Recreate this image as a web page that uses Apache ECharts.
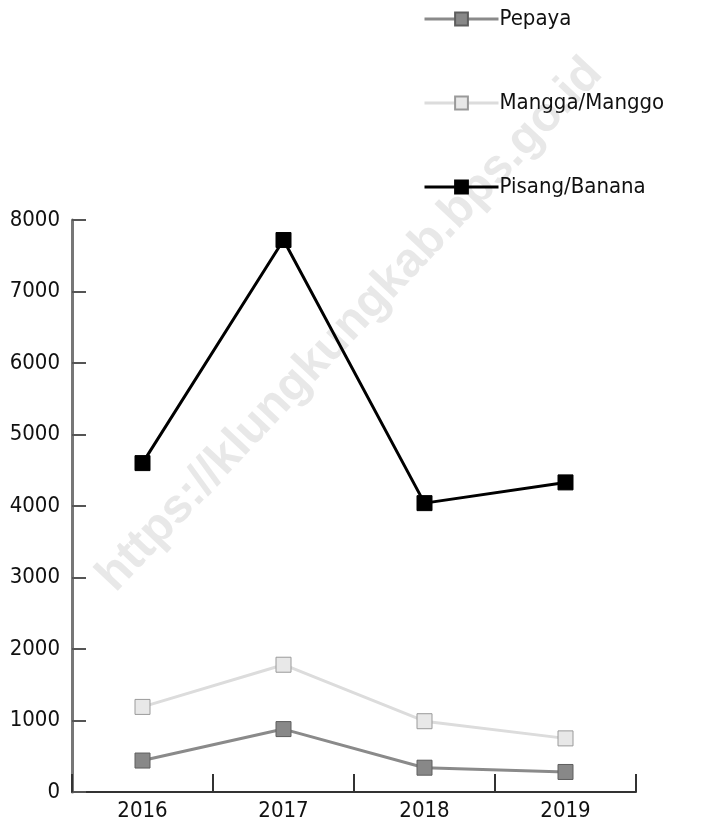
<!DOCTYPE html>
<html>
<head>
<meta charset="utf-8">
<script src="https://cdn.jsdelivr.net/npm/echarts@6/dist/echarts.min.js"></script>
<style>
  html, body { margin: 0; padding: 0; background: #fff; }
  #chart { width: 708px; height: 827px; }
</style>
</head>
<body>
<div id="chart"></div>
<script>
  var years = ['2016', '2017', '2018', '2019']
  var pepaya = [440, 880, 340, 280]
  var mangga = [1190, 1780, 990, 750]
  var pisang = [4600, 7720, 4040, 4330]
  var yTicks = [0, 1000, 2000, 3000, 4000, 5000, 6000, 7000, 8000]

  var font = "'DejaVu Sans Condensed', 'Liberation Sans Narrow', 'Liberation Sans', sans-serif"
  var chart = echarts.init(document.getElementById('chart'))

  function lineSeries(name, data, lineColor, fill, border) {
    return {
      name: name,
      type: 'line',
      data: data,
      symbol: 'rect',
      symbolSize: 15,
      lineStyle: { color: lineColor, width: 3 },
      itemStyle: { color: fill, borderColor: border, borderWidth: 1 },
      z: 3
    }
  }

  var option = {
    animation: false,
    textStyle: { fontFamily: font },
    legend: {
      orient: 'vertical',
      left: 418,
      top: 3,
      itemGap: 62,
      itemWidth: 74,
      itemHeight: 16,
      lineStyle: { width: 3 },
      textStyle: { fontSize: 22, color: '#111', fontFamily: font, padding: [0, 0, 0, -4] },
      data: ['Pepaya', 'Mangga/Manggo', 'Pisang/Banana']
    },
    graphic: [{
      type: 'text',
      x: 350,
      y: 325,
      rotation: Math.PI * 46.7 / 180,
      style: {
        text: 'https://klungkungkab.bps.go.id',
        font: "bold 48px 'Liberation Sans', sans-serif",
        fill: '#e8e8e8',
        align: 'center',
        verticalAlign: 'middle'
      },
      z: 0
    }],
    grid: { left: 72, right: 72, top: 220, bottom: 35 },
    xAxis: {
      type: 'category',
      data: years,
      boundaryGap: true,
      axisLine: { lineStyle: { color: '#333', width: 2 } },
      axisTick: { show: true, interval: 0, alignWithLabel: false, inside: true, length: 18, lineStyle: { color: '#333', width: 2 } },
      axisLabel: { fontSize: 22, color: '#111', margin: 8, fontFamily: font }
    },
    yAxis: {
      type: 'value',
      min: yTicks[0],
      max: yTicks[yTicks.length - 1],
      interval: 1000,
      splitLine: { show: false },
      axisLine: { show: true, lineStyle: { color: '#777', width: 3 } },
      axisTick: { show: true, inside: true, length: 14, lineStyle: { color: '#555', width: 2 } },
      axisLabel: { fontSize: 22, color: '#111', margin: 12, fontFamily: font, formatter: function (v) { return String(v) } }
    },
    series: [
      lineSeries('Pepaya', pepaya, '#8a8a8a', '#888888', '#5e5e5e'),
      lineSeries('Mangga/Manggo', mangga, '#dcdcdc', '#e8e8e8', '#9a9a9a'),
      lineSeries('Pisang/Banana', pisang, '#000000', '#000000', '#000000')
    ]
  }
  chart.setOption(option)
</script>
</body>
</html>
